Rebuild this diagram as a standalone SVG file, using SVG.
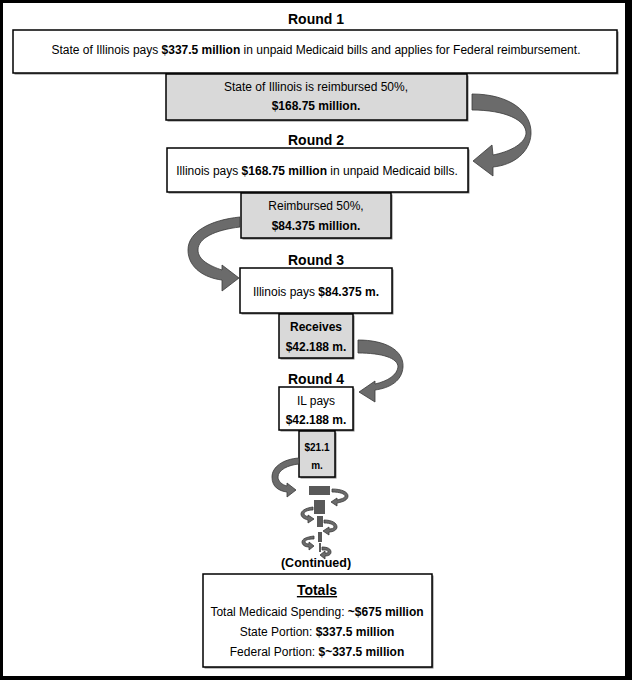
<svg xmlns="http://www.w3.org/2000/svg" width="632" height="680" viewBox="0 0 632 680">
<style>
text{font-family:"Liberation Sans",Arial,sans-serif;fill:#000;text-anchor:middle}
.t{font-size:14px;font-weight:bold}
.s{font-size:12px}
.b{font-weight:bold}
.wbox{fill:#fff;stroke:#000;stroke-width:1.5}
.gbox{fill:#d9d9d9;stroke:#000;stroke-width:1.5}
.shadow{fill:#808080}
.arr{fill:#6b6b6b;stroke:#3a3a3a;stroke-width:0.8}
.blk{fill:#595959}
</style>
<rect x="0" y="0" width="632" height="680" fill="#000"/>
<rect x="3" y="3" width="622" height="673" fill="#fff"/>

<g id="round1-title"><text class="t" x="316" y="24">Round 1</text></g>
<g id="round1-pay">
<rect class="shadow" x="14.5" y="31.5" width="604" height="43"/>
<rect class="wbox" x="13" y="30" width="604" height="43"/>
<text class="s" x="316" y="54">State of Illinois pays <tspan class="b">$337.5 million</tspan> in unpaid Medicaid bills and applies for Federal reimbursement.</text>
</g>
<g id="round1-reimb">
<rect class="shadow" x="167.5" y="75.5" width="301" height="46"/>
<rect class="gbox" x="166" y="74" width="301" height="46"/>
<text class="s" x="316" y="91">State of Illinois is reimbursed 50%,</text>
<text class="s b" x="316" y="110">$168.75 million.</text>
</g>

<g id="round2-title"><text class="t" x="316" y="145">Round 2</text></g>
<g id="round2-pay">
<rect class="shadow" x="168.5" y="149.5" width="301" height="44"/>
<rect class="wbox" x="167" y="148" width="301" height="44"/>
<text class="s" x="317" y="175">Illinois pays <tspan class="b">$168.75 million</tspan> in unpaid Medicaid bills.</text>
</g>
<g id="round2-reimb">
<rect class="shadow" x="242.5" y="194.5" width="150" height="45"/>
<rect class="gbox" x="241" y="193" width="150" height="45"/>
<text class="s" x="316" y="210">Reimbursed 50%,</text>
<text class="s b" x="316" y="230">$84.375 million.</text>
</g>

<g id="round3-title"><text class="t" x="316" y="265">Round 3</text></g>
<g id="round3-pay">
<rect class="shadow" x="241.5" y="269.5" width="152" height="45"/>
<rect class="wbox" x="240" y="268" width="152" height="45"/>
<text class="s" x="316" y="296">Illinois pays <tspan class="b">$84.375 m.</tspan></text>
</g>
<g id="round3-recv">
<rect class="shadow" x="280.5" y="315.5" width="74" height="44"/>
<rect class="gbox" x="279" y="314" width="74" height="44"/>
<text class="s b" x="316" y="331">Receives</text>
<text class="s b" x="316" y="351">$42.188 m.</text>
</g>

<g id="round4-title"><text class="t" x="316" y="384">Round 4</text></g>
<g id="round4-pay">
<rect class="shadow" x="280.5" y="388.5" width="74" height="43"/>
<rect class="wbox" x="279" y="387" width="74" height="43"/>
<text class="s" x="316" y="405">IL pays</text>
<text class="s b" x="316" y="424">$42.188 m.</text>
</g>
<g id="round4-recv">
<rect class="shadow" x="300.5" y="432.5" width="36" height="46"/>
<rect class="gbox" x="299" y="431" width="36" height="46"/>
<text class="b" x="317" y="451" style="font-size:10px">$21.1</text>
<text class="b" x="317" y="469" style="font-size:10px">m.</text>
</g>

<g id="continued-steps">
<rect class="blk" x="309" y="486" width="21" height="9"/>
<rect class="blk" x="314" y="500" width="11" height="14"/>
<rect class="blk" x="317" y="516" width="6" height="11"/>
<rect class="blk" x="318" y="532" width="4" height="10"/>
<rect class="blk" x="319" y="543" width="2" height="9"/>
</g>

<g id="connectors">
<path class="arr" d="M472,94 C510,94 532,112 531,134 C530,152 514,165 493,167 L493,176 L473,161 L492,145 L493,155 C508,152 524,145 526,134 C527,120 505,110 472,110 Z"/>
<path class="arr" d="M240,217 C210,220 188,232 188,250 C188,268 205,278 222,280 L222,291 L239,278 L222,265 L222,270 C210,266 198,260 198,250 C198,238 215,230 240,227 Z"/>
<path class="arr" d="M358,340 C385,340 404,350 403,367 C402,381 390,388 375,390 L375,402 L359,392 L375,381 L375,384 C388,381 397,375 398,367 C398,358 382,353 358,353 Z"/>
<path class="arr" d="M299,458 C283,459 272,467 272,477 C272,487 279,491 287,492 L287,497 L296,490 L287,483 L287,486 C282,485 278,481 278,477 C278,470 288,465 299,464 Z"/>
<path class="arr" d="M332,489 C342,489 348,492 348,496 C348,500 343,502 337,503 L337,506 L331,502 L337,498 L337,500 C341,499 345,498 345,496 C345,494 340,492 332,492 Z"/>
<path class="arr" d="M313,507 C305,508 301,511 301,514 C301,517 304,519 308,520 L308,523 L314,519 L308,515 L308,517 C306,516 304,515 304,514 C304,512 307,510 313,510 Z"/>
<path class="arr" d="M324,520 C332,520 337,523 337,527 C337,530 333,532 329,532 L329,535 L323,531 L329,527 L329,529 C332,529 334,528 334,527 C334,525 331,523 324,523 Z"/>
<path class="arr" d="M314,536 C306,537 302,539 302,542 C302,545 305,547 309,547 L309,550 L314,546 L309,542 L309,544 C307,544 305,543 305,542 C305,540 308,539 314,539 Z"/>
<path class="arr" d="M322,547 C328,547 331,549 331,552 C331,555 328,556 325,556 L325,559 L320,555 L325,551 L325,553 C327,553 328,553 328,552 C328,550 326,550 322,550 Z"/>
</g>

<g id="continued-label"><text class="b" x="316" y="567" style="font-size:12.5px">(Continued)</text></g>

<g id="totals">
<rect class="shadow" x="204.5" y="575.5" width="229" height="93"/>
<rect class="wbox" x="203" y="574" width="229" height="93"/>
<text class="t" x="317" y="595" text-decoration="underline">Totals</text>
<text class="s" x="317" y="616">Total Medicaid Spending: <tspan class="b">~$675 million</tspan></text>
<text class="s" x="317" y="636">State Portion: <tspan class="b">$337.5 million</tspan></text>
<text class="s" x="317" y="656">Federal Portion: <tspan class="b">$~337.5 million</tspan></text>
</g>
</svg>
